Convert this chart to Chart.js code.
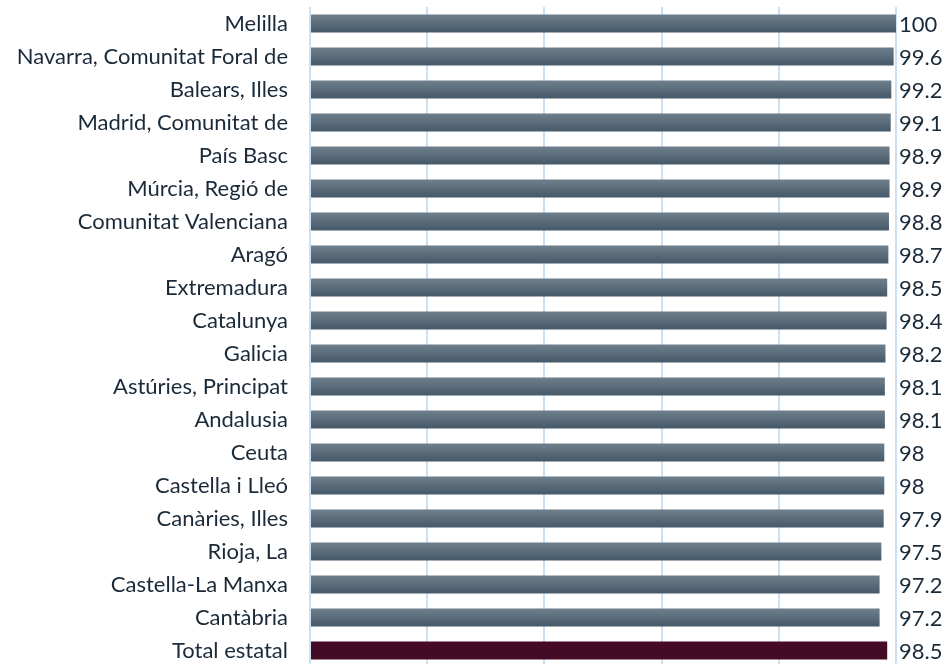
<!DOCTYPE html>
<html>
<head>
<meta charset="utf-8">
<script src="https://cdn.jsdelivr.net/npm/chart.js@4"></script>
<style>
  html, body { margin: 0; padding: 0; background: #fff; overflow: hidden; }
  #wrap { width: 950px; height: 667px; }
</style>
</head>
<body>
<div id="wrap"><canvas id="chart" width="950" height="667"></canvas></div>
<script>
// regions, sorted as in the source chart
const categories = [
    'Melilla', 'Navarra, Comunitat Foral de', 'Balears, Illes', 'Madrid, Comunitat de',
    'País Basc', 'Múrcia, Regió de', 'Comunitat Valenciana', 'Aragó', 'Extremadura',
    'Catalunya', 'Galicia', 'Astúries, Principat', 'Andalusia', 'Ceuta', 'Castella i Lleó',
    'Canàries, Illes', 'Rioja, La', 'Castella-La Manxa', 'Cantàbria', 'Total estatal'
];
const values = [100, 99.6, 99.2, 99.1, 98.9, 98.9, 98.8, 98.7, 98.5, 98.4, 98.2, 98.1, 98.1, 98, 98, 97.9, 97.5, 97.2, 97.2, 98.5];
const xTicks = [0, 20, 40, 60, 80, 100];

const FONT = 'Lato';
const TEXT = '#1b2a39';

function barColor(context) {
    if (context.dataIndex === categories.length - 1) return '#450a25';
    const chart = context.chart;
    const y = chart.scales.y;
    if (!chart.chartArea || !y) return '#5a6b79';
    const yc = y.getPixelForValue(context.dataIndex);
    const g = chart.ctx.createLinearGradient(0, yc - 9, 0, yc + 9);
    g.addColorStop(0, '#6f7f8c');
    g.addColorStop(1, '#465969');
    return g;
}

// value labels sit in a column just right of the 100 gridline
const valueLabels = {
    id: 'valueLabels',
    afterDatasetsDraw(chart) {
        const ctx = chart.ctx;
        const meta = chart.getDatasetMeta(0);
        const x0 = chart.scales.x.getPixelForValue(xTicks[xTicks.length - 1]) + 3;
        ctx.save();
        ctx.font = '22px ' + FONT;
        ctx.fillStyle = TEXT;
        ctx.textAlign = 'left';
        ctx.textBaseline = 'middle';
        meta.data.forEach((bar, i) => {
            ctx.fillText(String(values[i]), x0, bar.y + 1);
        });
        ctx.restore();
    }
};

new Chart(document.getElementById('chart'), {
    type: 'bar',
    data: {
        labels: categories,
        datasets: [{
            data: values,
            backgroundColor: barColor,
            barPercentage: 0.545,
            categoryPercentage: 1
        }]
    },
    options: {
        indexAxis: 'y',
        responsive: false,
        animation: false,
        layout: { padding: { top: 7, right: 54, bottom: 0, left: 0 } },
        plugins: { legend: { display: false }, tooltip: { enabled: false } },
        scales: {
            x: {
                min: 0, max: 100,
                afterBuildTicks: axis => { axis.ticks = xTicks.map(v => ({ value: v })); },
                afterFit: axis => { axis.height = 0; axis.paddingLeft = 0; axis.paddingRight = 0; },
                ticks: { display: false },
                grid: { color: '#cbe0f3', lineWidth: 2, drawTicks: false },
                border: { display: false }
            },
            y: {
                afterFit: axis => { axis.width = 310; axis.paddingTop = 0; axis.paddingBottom = 0; },
                ticks: { color: TEXT, font: { family: FONT, size: 22 }, padding: 22, autoSkip: false },
                grid: { display: false, drawTicks: false },
                border: { display: false }
            }
        }
    },
    plugins: [valueLabels]
});
</script>
</body>
</html>
